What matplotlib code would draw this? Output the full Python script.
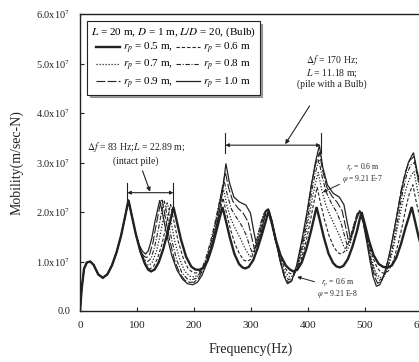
import matplotlib
matplotlib.use("Agg")
import matplotlib.pyplot as plt
from matplotlib.ticker import FuncFormatter, MultipleLocator

plt.rcParams["font.family"] = ["Liberation Serif", "DejaVu Serif"]
plt.rcParams["mathtext.fontset"] = "stix"

INK = "#222222"

# ── Data (frequency in Hz, mobility in units of 1e7 m/sec-N) ────────────────
start = [(0, 0), (3, 0.45), (7, 0.85), (12, 0.98), (18, 1.0), (24, 0.93),
         (32, 0.74), (40, 0.67), (48, 0.74), (56, 0.92), (64, 1.18), (72, 1.52),
         (79, 1.9), (85, 2.24), (91, 1.92), (98, 1.55)]

rp05 = [(106, 1.2), (114, 0.95), (120, 0.83), (125, 0.8), (131, 0.84), (138, 0.98),
        (146, 1.25), (154, 1.6), (159, 1.85), (164, 2.1), (170, 1.8), (177, 1.45),
        (186, 1.1), (195, 0.9), (202, 0.84), (209, 0.83), (216, 0.87), (224, 1.02),
        (232, 1.3), (240, 1.65), (245, 1.88), (250, 2.1), (256, 1.82), (263, 1.48),
        (271, 1.15), (279, 0.95), (285, 0.88), (290, 0.86), (296, 0.89), (304, 1.03),
        (312, 1.28), (320, 1.58), (326, 1.82), (331, 2.02), (337, 1.75), (344, 1.42),
        (352, 1.12), (361, 0.92), (368, 0.84), (374, 0.8), (381, 0.83), (389, 0.98),
        (397, 1.25), (405, 1.6), (410, 1.85), (415, 2.1), (421, 1.82), (428, 1.48),
        (436, 1.16), (444, 0.97), (450, 0.9), (456, 0.88), (462, 0.91), (470, 1.05),
        (478, 1.3), (486, 1.62), (490, 1.82), (494, 2.0), (500, 1.74), (507, 1.42),
        (515, 1.13), (524, 0.95), (532, 0.89), (540, 0.88), (547, 0.92), (555, 1.08),
        (563, 1.35), (571, 1.68), (577, 1.9), (582, 2.1), (588, 1.8), (595, 1.45),
        (604, 1.12), (614, 0.95)]

rp06 = [(106, 1.22), (113, 0.98), (118, 0.87), (123, 0.85), (129, 0.9), (136, 1.06),
        (144, 1.36), (151, 1.72), (155, 1.95), (159, 2.15), (165, 1.8), (172, 1.42),
        (181, 1.07), (190, 0.85), (199, 0.77), (207, 0.77), (214, 0.83), (222, 1.0),
        (230, 1.28), (238, 1.65), (245, 2.0), (251, 2.28), (257, 1.98), (264, 1.65),
        (272, 1.35), (280, 1.15), (287, 1.03), (293, 1.0), (299, 1.04), (306, 1.2),
        (314, 1.5), (322, 1.82), (329, 2.05), (335, 1.8), (342, 1.45), (350, 1.12),
        (358, 0.9), (365, 0.78), (372, 0.74), (379, 0.8), (387, 1.0), (395, 1.32),
        (403, 1.75), (409, 2.12), (416, 2.5), (422, 2.18), (429, 1.84), (437, 1.52),
        (445, 1.3), (452, 1.18), (458, 1.15), (464, 1.2), (471, 1.38), (479, 1.68),
        (486, 1.92), (492, 2.02), (498, 1.78), (505, 1.42), (513, 1.1), (521, 0.88),
        (528, 0.78), (535, 0.76), (542, 0.82), (550, 1.02), (558, 1.35), (566, 1.75),
        (572, 2.1), (578, 2.38), (584, 2.55), (590, 2.2), (597, 1.85), (605, 1.55),
        (615, 1.32)]

rp07 = [(105, 1.27), (111, 1.05), (116, 0.95), (121, 0.92), (127, 0.99), (134, 1.2),
        (141, 1.55), (146, 1.85), (150, 2.05), (153, 2.2), (159, 1.85), (166, 1.42),
        (175, 1.04), (184, 0.8), (193, 0.7), (201, 0.69), (209, 0.74), (217, 0.9),
        (225, 1.15), (233, 1.5), (240, 1.87), (246, 2.2), (252, 2.45), (258, 2.12),
        (265, 1.85), (273, 1.65), (282, 1.45), (290, 1.25), (298, 1.1), (304, 1.18),
        (311, 1.48), (318, 1.8), (324, 2.0), (330, 2.06), (336, 1.8), (343, 1.43),
        (351, 1.06), (359, 0.8), (368, 0.68), (375, 0.72), (383, 0.92), (392, 1.32),
        (401, 1.85), (408, 2.3), (413, 2.58), (418, 2.8), (424, 2.45), (431, 2.15),
        (439, 1.92), (448, 1.7), (456, 1.5), (463, 1.3), (468, 1.22), (474, 1.35),
        (480, 1.65), (486, 1.9), (491, 2.03), (497, 1.8), (504, 1.43), (511, 1.06),
        (518, 0.8), (526, 0.67), (533, 0.7), (541, 0.88), (550, 1.28), (558, 1.75),
        (566, 2.2), (573, 2.5), (579, 2.7), (586, 2.82), (592, 2.45), (599, 2.1),
        (608, 1.85), (618, 1.68)]

rp08 = [(104, 1.3), (110, 1.1), (115, 1.02), (119, 1.0), (125, 1.07), (131, 1.3),
        (137, 1.62), (142, 1.93), (145, 2.1), (148, 2.22), (154, 1.86), (161, 1.43),
        (170, 1.02), (179, 0.77), (188, 0.65), (196, 0.63), (204, 0.66), (212, 0.8),
        (220, 1.04), (228, 1.36), (236, 1.74), (243, 2.12), (248, 2.4), (253, 2.62),
        (259, 2.32), (266, 2.05), (275, 1.88), (284, 1.72), (292, 1.52), (298, 1.3),
        (302, 1.18), (307, 1.28), (313, 1.58), (319, 1.85), (325, 2.02), (330, 2.06),
        (336, 1.8), (343, 1.42), (351, 1.02), (359, 0.74), (366, 0.63), (373, 0.67),
        (382, 0.9), (391, 1.35), (400, 1.92), (407, 2.45), (413, 2.8), (419, 3.05),
        (425, 2.7), (432, 2.4), (441, 2.18), (450, 2.0), (458, 1.78), (465, 1.48),
        (469, 1.32), (474, 1.42), (480, 1.72), (486, 1.95), (491, 2.03), (497, 1.8),
        (504, 1.42), (511, 1.02), (518, 0.74), (525, 0.62), (532, 0.66), (540, 0.88),
        (549, 1.32), (558, 1.88), (566, 2.4), (573, 2.75), (580, 2.95), (587, 3.0),
        (593, 2.65), (600, 2.3), (609, 2.05), (619, 1.9)]

rp09 = [(103, 1.34), (108, 1.17), (113, 1.1), (117, 1.08), (122, 1.14), (128, 1.38),
        (133, 1.7), (138, 2.0), (141, 2.16), (144, 2.24), (150, 1.88), (157, 1.45),
        (166, 1.02), (175, 0.76), (184, 0.62), (192, 0.58), (200, 0.58), (208, 0.66),
        (216, 0.84), (224, 1.12), (232, 1.48), (240, 1.9), (247, 2.32), (251, 2.58),
        (255, 2.8), (261, 2.48), (268, 2.22), (277, 2.08), (286, 1.98), (295, 1.8),
        (301, 1.5), (306, 1.25), (311, 1.33), (316, 1.6), (321, 1.87), (326, 2.03),
        (330, 2.06), (337, 1.81), (344, 1.42), (351, 1.02), (358, 0.72), (365, 0.58),
        (372, 0.62), (381, 0.9), (390, 1.4), (399, 2.0), (406, 2.55), (413, 2.95),
        (420, 3.2), (426, 2.82), (433, 2.5), (442, 2.32), (451, 2.2), (460, 2.02),
        (466, 1.7), (471, 1.42), (476, 1.48), (481, 1.75), (486, 1.96), (491, 2.02),
        (497, 1.78), (504, 1.4), (510, 1.02), (516, 0.72), (522, 0.56), (529, 0.6),
        (537, 0.85), (546, 1.32), (555, 1.88), (563, 2.42), (571, 2.82), (579, 3.05),
        (586, 3.12), (592, 2.75), (599, 2.4), (608, 2.18), (618, 2.05)]

rp10 = [(104, 1.33), (110, 1.2), (115, 1.15), (120, 1.22), (126, 1.47), (131, 1.78),
        (136, 2.04), (140, 2.24), (146, 1.9), (153, 1.5), (161, 1.12), (170, 0.83),
        (180, 0.64), (189, 0.55), (198, 0.53), (206, 0.58), (214, 0.72), (222, 0.95),
        (230, 1.26), (238, 1.65), (245, 2.05), (251, 2.5), (256, 2.98), (262, 2.6),
        (270, 2.3), (280, 2.2), (291, 2.14), (299, 1.98), (305, 1.6), (310, 1.32),
        (315, 1.4), (320, 1.7), (326, 2.0), (331, 2.06), (337, 1.82), (344, 1.42),
        (351, 1.02), (358, 0.7), (364, 0.55), (371, 0.6), (380, 0.92), (389, 1.42),
        (398, 1.98), (406, 2.55), (413, 3.0), (420, 3.35), (426, 2.9), (434, 2.55),
        (444, 2.38), (455, 2.3), (463, 2.15), (469, 1.78), (474, 1.5), (479, 1.58),
        (485, 1.85), (491, 2.02), (497, 1.78), (503, 1.4), (509, 1.0), (514, 0.7),
        (520, 0.5), (526, 0.53), (533, 0.72), (542, 1.1), (551, 1.62), (560, 2.18),
        (568, 2.65), (576, 3.0), (585, 3.2), (591, 2.85), (598, 2.5), (607, 2.3),
        (618, 2.2)]

series = [rp05, rp06, rp07, rp08, rp09, rp10]
labels = [r"$r_p$ = 0.5 m,", r"$r_p$ = 0.6 m", r"$r_p$ = 0.7 m,",
          r"$r_p$ = 0.8 m", r"$r_p$ = 0.9 m,", r"$r_p$ = 1.0 m"]

# annotation brackets: (f_left, f_right, level)
bracket_intact = (83, 164, 2.39)
bracket_bulb = (255, 422, 3.35)

# ── Figure ──────────────────────────────────────────────────────────────────
fig = plt.figure(figsize=(4.19, 3.62), dpi=100)
ax = fig.add_axes([80 / 419, 51 / 362, 342 / 419, 297 / 362])

styles = [
    dict(ls="-", lw=1.7),
    dict(ls=(0, (3, 1.8)), lw=0.8),
    dict(ls=(0, (1, 1.4)), lw=0.9),
    dict(ls=(0, (4, 1.5, 1, 1.5)), lw=0.8),
    dict(ls=(0, (8, 2)), lw=0.8),
    dict(ls="-", lw=0.9),
]

lines = []
for pts, st, lab in zip(series, styles, labels):
    f, m = zip(*(start + pts))
    ln, = ax.plot(f, [v * 1e7 for v in m], color=INK, label=lab,
                  solid_joinstyle="miter", **st)
    lines.append(ln)

ax.set_xlim(0, 600)
ax.set_ylim(0, 6e7)
ax.xaxis.set_major_locator(MultipleLocator(100))
ax.yaxis.set_major_locator(MultipleLocator(1e7))
ax.yaxis.set_major_formatter(FuncFormatter(
    lambda v, _: "0.0" if v == 0 else f"{v / 1e7:.1f}x10$^7$"))
ax.tick_params(direction="in", length=3, width=0.8, colors=INK, pad=7)
ax.tick_params(axis="x", labelsize=8)
ax.tick_params(axis="y", labelsize=7.5)
for s in ax.spines.values():
    s.set_color(INK)
    s.set_linewidth(1.0)

ax.set_xlabel("Frequency(Hz)", fontsize=10, color=INK)
ax.set_ylabel("Mobility(m/sec-N)", fontsize=10, color=INK)
ax.xaxis.set_label_coords(0.5, -0.105)
ax.yaxis.set_label_coords(-0.165, 0.5)

order = [0, 2, 4, 1, 3, 5]
leg = ax.legend([lines[i] for i in order], [labels[i] for i in order],
                ncol=2, loc="upper left", bbox_to_anchor=(0.02, 0.975),
                borderaxespad=0, fontsize=8, title_fontsize=8,
                title=r"$L$ = 20 m, $D$ = 1 m, $L/D$ = 20, (Bulb)",
                fancybox=False, shadow=True, edgecolor=INK, framealpha=1,
                handlelength=2.2, handletextpad=0.2, columnspacing=0.3,
                labelspacing=0.2, borderpad=0.35)
leg.get_frame().set_linewidth(0.8)

# ── Annotations ─────────────────────────────────────────────────────────────
arrow_kw = dict(arrowstyle="<|-|>", lw=0.8, color=INK, mutation_scale=5,
                shrinkA=0, shrinkB=0)
x0, x1, lev = bracket_intact
ax.annotate("", xy=(x0, lev * 1e7), xytext=(x1, lev * 1e7), arrowprops=arrow_kw)
ax.plot([x0, x0], [2.24e7, 2.59e7], color=INK, lw=0.8)
ax.plot([x1, x1], [2.04e7, 2.59e7], color=INK, lw=0.8)

x0, x1, lev = bracket_bulb
ax.annotate("", xy=(x0, lev * 1e7), xytext=(x1, lev * 1e7), arrowprops=arrow_kw)
ax.plot([x0, x0], [3.2e7, 3.6e7], color=INK, lw=0.8)
ax.plot([x1, x1], [3.2e7, 3.6e7], color=INK, lw=0.8)

ax.annotate(r"$\Delta f$ = 83 Hz;$L$ = 22.89 m;" + "\n(intact pile)",
            xy=(123, 2.41e7), xytext=(98, 3.2e7), ha="center", va="center",
            fontsize=7, color=INK, linespacing=1.3,
            arrowprops=dict(arrowstyle="-|>", lw=0.8, color=INK,
                            mutation_scale=6, shrinkA=2, shrinkB=0))

ax.annotate(r"$\Delta f$ = 170 Hz;" + "\n" + r"$L$ = 11.18 m;" + "\n(pile with a Bulb)",
            xy=(360, 3.37e7), xytext=(442, 4.85e7), ha="center", va="center",
            fontsize=7, color=INK, linespacing=1.05,
            arrowprops=dict(arrowstyle="-|>", lw=0.8, color=INK,
                            mutation_scale=6, shrinkA=12, shrinkB=0))

ax.annotate(r"$r_p$ = 0.6 m" + "\n" + r"$\varphi$ = 9.21 E-7",
            xy=(426, 2.4e7), xytext=(496, 2.78e7), ha="center", va="center",
            fontsize=5.5, color=INK, linespacing=1.0,
            arrowprops=dict(arrowstyle="-|>", lw=0.7, color=INK,
                            mutation_scale=5, shrinkA=14, shrinkB=0))

ax.annotate(r"$r_p$ = 0.6 m" + "\n" + r"$\varphi$ = 9.21 E-8",
            xy=(381, 0.69e7), xytext=(452, 0.46e7), ha="center", va="center",
            fontsize=5.5, color=INK, linespacing=1.0,
            arrowprops=dict(arrowstyle="-|>", lw=0.7, color=INK,
                            mutation_scale=5, shrinkA=14, shrinkB=0))

fig.savefig("out.png", dpi=100)
